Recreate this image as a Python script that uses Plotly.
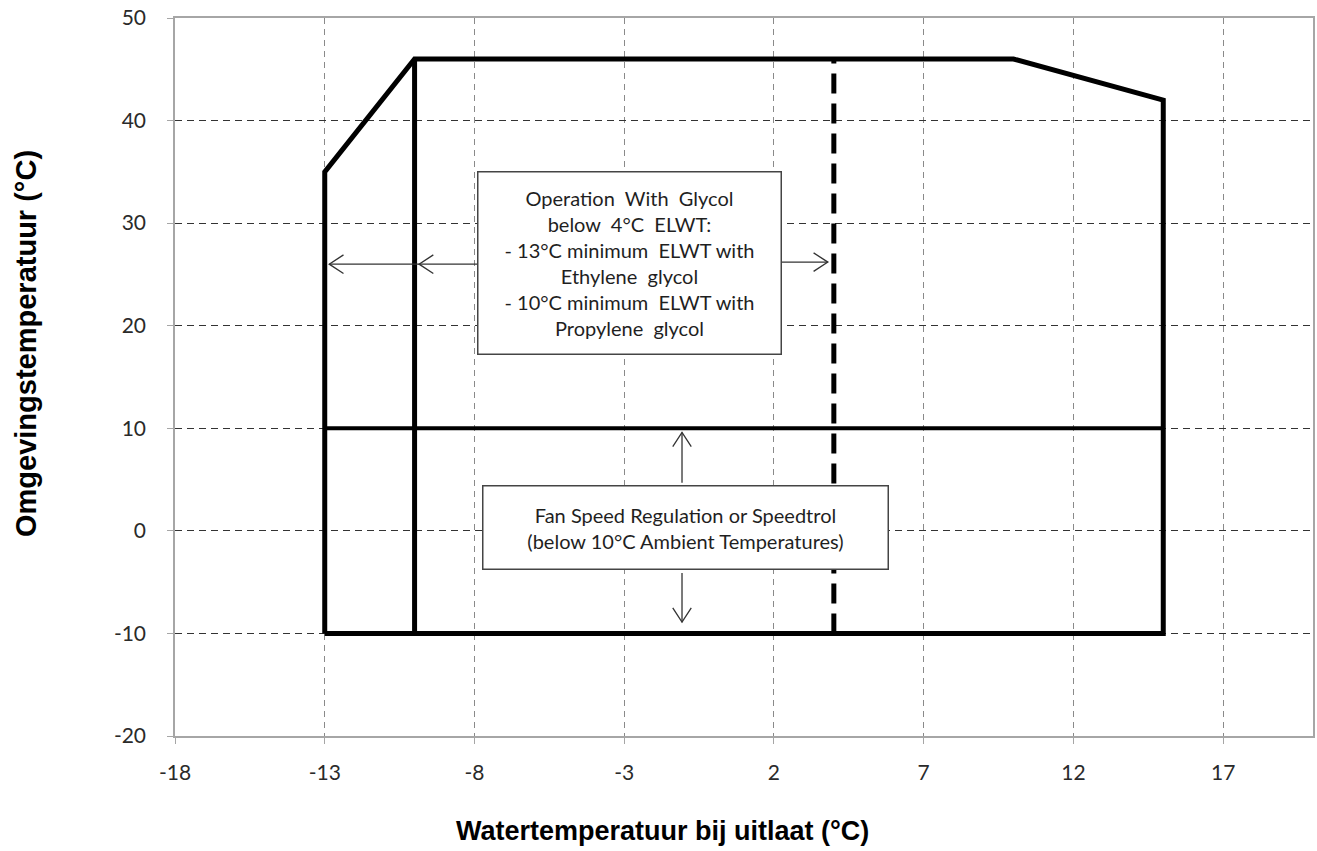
import math
import plotly.graph_objects as go

# ---- data ----
env_x = [-13, -13, -10, 10, 15, 15, -13]
env_y = [-10, 35, 46, 46, 42, -10, -10]
split_x = [-10, -10]
split_y = [-10, 46]
fan_x = [-13, 15]
fan_y = [10, 10]
glycol_x = [4, 4]
glycol_y = [-10, 46]

x_ticks = [-18, -13, -8, -3, 2, 7, 12, 17]
y_ticks = [-20, -10, 0, 10, 20, 30, 40, 50]
x_range = [-18, 20]
y_range = [-20, 50]

# arrows: (start_x, start_y, tip_x, tip_y)
arrows = [
    (-7.9, 26, -12.85, 26),
    (2.25, 26.2, 3.8, 26.2),
    (-1.07, 4.7, -1.07, 9.6),
    (-1.07, -4.1, -1.07, -8.9),
]
extra_heads = [(-9.85, 26, -1, 0)]  # chevron at the -10 line

glycol_text = ("Operation  With  Glycol<br>below  4°C  ELWT:<br>- 13°C minimum  ELWT with<br>"
               "Ethylene  glycol<br>- 10°C minimum  ELWT with<br>Propylene  glycol")
fan_text = "Fan Speed Regulation or Speedtrol<br>(below 10°C Ambient Temperatures)"
x_title = "Watertemperatuur bij uitlaat (°C)"
y_title = "Omgevingstemperatuur (°C)"

# ---- layout geometry ----
W, H = 1317, 851
ml, mr, mt, mb = 175, 4, 18, 115
pw = W - ml - mr
ph = H - mt - mb
sx = pw / (x_range[1] - x_range[0])
sy = ph / (y_range[1] - y_range[0])

fig = go.Figure()

line_common = dict(mode="lines", hoverinfo="skip", showlegend=False)
fig.add_trace(go.Scatter(x=env_x, y=env_y, line=dict(color="black", width=5), **line_common))
fig.add_trace(go.Scatter(x=split_x, y=split_y, line=dict(color="black", width=5), **line_common))
fig.add_trace(go.Scatter(x=fan_x, y=fan_y, line=dict(color="black", width=4), **line_common))
fig.add_trace(go.Scatter(x=glycol_x, y=glycol_y,
                         line=dict(color="black", width=5, dash="20px,10px"), **line_common))


def chevron(tx, ty, dx, dy, L=17, ang=33):
    # dx, dy: direction of travel in pixel space (y up)
    pts = []
    for s in (1, -1):
        a = math.radians(180 + s * ang)
        rx = dx * math.cos(a) - dy * math.sin(a)
        ry = dx * math.sin(a) + dy * math.cos(a)
        pts.append((tx + rx * L / sx, ty + ry * L / sy))
    return [pts[0][0], tx, pts[1][0]], [pts[0][1], ty, pts[1][1]]


ax_x, ax_y = [], []
for (x0, y0, x1, y1) in arrows:
    ax_x += [x0, x1, None]
    ax_y += [y0, y1, None]
    ddx = (x1 - x0) * sx
    ddy = (y1 - y0) * sy
    n = math.hypot(ddx, ddy)
    cx, cy = chevron(x1, y1, ddx / n, ddy / n)
    ax_x += cx + [None]
    ax_y += cy + [None]
for (tx, ty, dx, dy) in extra_heads:
    cx, cy = chevron(tx, ty, dx, dy)
    ax_x += cx + [None]
    ax_y += cy + [None]
fig.add_trace(go.Scatter(x=ax_x, y=ax_y, line=dict(color="#333333", width=1.3), **line_common))

box_font = dict(family="Lato, Open Sans, sans-serif", size=20, color="#1f1f1f")
fig.add_annotation(x=-2.81, y=26.07, xref="x", yref="y", text=glycol_text, showarrow=False,
                   font=box_font, bgcolor="white", bordercolor="#444444", borderwidth=1.5,
                   width=300, height=179, align="center", valign="middle")
fig.add_annotation(x=-0.94, y=0.3, xref="x", yref="y", text=fan_text, showarrow=False,
                   font=box_font, bgcolor="white", bordercolor="#444444", borderwidth=1.5,
                   width=402, height=80, align="center", valign="middle")


def paper_xy(px_, py_):
    return (px_ - ml) / pw, 1 - (py_ - mt) / ph


tx_, ty_ = paper_xy(662, 831)
fig.add_annotation(x=tx_, y=ty_, xref="paper", yref="paper", xanchor="center",
                   yanchor="middle", text="<b>" + x_title + "</b>", showarrow=False,
                   font=dict(family="Liberation Sans, Arial, sans-serif", size=27, color="black"))
tx_, ty_ = paper_xy(26, 344)
fig.add_annotation(x=tx_, y=ty_, xref="paper", yref="paper", xanchor="center",
                   yanchor="middle", text="<b>" + y_title + "</b>", textangle=-90,
                   showarrow=False,
                   font=dict(family="Liberation Sans, Arial, sans-serif", size=29, color="black"))

tick_font = dict(family="Lato, Open Sans, sans-serif", size=21, color="#2a2a2a")
fig.update_xaxes(range=x_range, tickvals=x_ticks, ticktext=[str(v) for v in x_ticks],
                 showgrid=True, gridcolor="#8a8a8a",
                 griddash="6px,5px", gridwidth=1, zeroline=False, showline=True,
                 linecolor="#a6a6a6", linewidth=1.5, mirror=True, ticks="outside", ticklen=6,
                 tickcolor="#a6a6a6", tickfont=tick_font, ticklabelstandoff=11, automargin=False)
fig.update_yaxes(range=y_range, tickvals=y_ticks, ticktext=[str(v) for v in y_ticks],
                 showgrid=True, gridcolor="#333333",
                 griddash="7px,5px", gridwidth=1, zeroline=False, showline=True,
                 linecolor="#a6a6a6", linewidth=1.5, mirror=True, ticks="outside", ticklen=6,
                 tickcolor="#a6a6a6", tickfont=tick_font, ticklabelstandoff=17, automargin=False)
fig.update_layout(width=W, height=H, margin=dict(l=ml, r=mr, t=mt, b=mb, autoexpand=False),
                  plot_bgcolor="white", paper_bgcolor="white", showlegend=False)
fig.write_html("out.html", config={"displayModeBar": False},
               post_script="document.body.style.margin='0px';document.body.style.overflow='hidden';")
